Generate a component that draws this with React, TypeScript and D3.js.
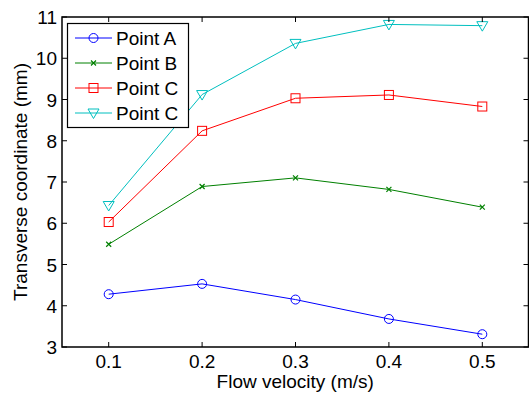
import * as d3 from "d3";

const velocity = [0.1, 0.2, 0.3, 0.4, 0.5];
const pointA = [4.28, 4.53, 4.15, 3.68, 3.31];
const pointB = [5.49, 6.89, 7.1, 6.82, 6.39];
const pointC = [6.03, 8.24, 9.03, 9.11, 8.83];
const pointC2 = [6.43, 9.12, 10.36, 10.82, 10.79];
const xTicks = [0.1, 0.2, 0.3, 0.4, 0.5];
const yTicks = [3, 4, 5, 6, 7, 8, 9, 10, 11];
const seriesNames = ["Point A", "Point B", "Point C", "Point C"];

type Marker = "circle" | "x" | "square" | "triangle";

const series: { name: string; values: number[]; color: string; marker: Marker }[] = [
  { name: seriesNames[0], values: pointA, color: "#0000ff", marker: "circle" },
  { name: seriesNames[1], values: pointB, color: "#008000", marker: "x" },
  { name: seriesNames[2], values: pointC, color: "#ff0000", marker: "square" },
  { name: seriesNames[3], values: pointC2, color: "#00bfbf", marker: "triangle" },
];

const W = 529;
const H = 394;
const margin = { top: 17, right: 0, bottom: 47, left: 62 };
const font = "'Liberation Sans', Arial, Helvetica, sans-serif";
const fs = 19;

function MarkerShape({ kind, x, y, color }: { kind: Marker; x: number; y: number; color: string }) {
  if (kind === "circle")
    return <circle cx={x} cy={y} r={4.5} fill="none" stroke={color} strokeWidth={1} />;
  if (kind === "square")
    return <rect x={x - 4.5} y={y - 4.5} width={9} height={9} fill="none" stroke={color} strokeWidth={1} />;
  if (kind === "triangle")
    return (
      <path
        d={`M${x - 5.5},${y - 4}L${x + 5.5},${y - 4}L${x},${y + 5.5}Z`}
        fill="none"
        stroke={color}
        strokeWidth={1}
      />
    );
  return (
    <path
      d={`M${x - 2.5},${y - 2.5}L${x + 2.5},${y + 2.5}M${x - 2.5},${y + 2.5}L${x + 2.5},${y - 2.5}`}
      stroke={color}
      strokeWidth={1.2}
    />
  );
}

export default function App() {
  const x = d3.scaleLinear().domain([0.05, 0.55]).range([margin.left, W - margin.right]);
  const y = d3.scaleLinear().domain([3, 11]).range([H - margin.bottom, margin.top]);
  const x0 = x(0.05);
  const x1 = x(0.55) - 0.5;
  const y0 = y(3);
  const y1 = y(11);
  const tl = 5;

  const line = d3
    .line<number>()
    .x((_, i) => x(velocity[i]))
    .y((v) => y(v));

  return (
    <svg
      width={W}
      height={H}
      style={{ position: "absolute", left: 0, top: 0, background: "#fff" }}
      fontFamily={font}
    >
      <rect width={W} height={H} fill="#fff" />
      {/* series */}
      {series.map((s) => (
        <g key={s.name + s.marker}>
          <path d={line(s.values) ?? ""} fill="none" stroke={s.color} strokeWidth={1} />
          {s.values.map((v, i) => (
            <MarkerShape key={i} kind={s.marker} x={x(velocity[i])} y={y(v)} color={s.color} />
          ))}
        </g>
      ))}

      {/* box and ticks */}
      <g stroke="#000" fill="none">
        <path d={`M${x0},${y1}H${x1}V${y0}H${x0}Z`} strokeWidth={1.5} />
        {xTicks.map((t) => (
          <g key={t} strokeWidth={1}>
            <line x1={x(t)} x2={x(t)} y1={y0} y2={y0 - tl} />
            <line x1={x(t)} x2={x(t)} y1={y1} y2={y1 + tl} />
          </g>
        ))}
        {yTicks.map((t) => (
          <g key={t} strokeWidth={1}>
            <line x1={x0} x2={x0 + tl} y1={y(t)} y2={y(t)} />
            <line x1={x1} x2={x1 - tl} y1={y(t)} y2={y(t)} />
          </g>
        ))}
      </g>

      {/* tick labels */}
      <g fontSize={fs} fill="#000">
        {xTicks.map((t) => (
          <text key={t} x={x(t)} y={y0 + 21} textAnchor="middle">
            {d3.format(".1f")(t)}
          </text>
        ))}
        {yTicks.map((t) => (
          <text key={t} x={x0 - 5} y={y(t) + 7} textAnchor="end">
            {t}
          </text>
        ))}
      </g>

      {/* axis titles */}
      <text x={(x0 + x1) / 2} y={388} textAnchor="middle" fontSize={fs} fill="#000">
        Flow velocity (m/s)
      </text>
      <text
        transform={`translate(27,${(y0 + y1) / 2}) rotate(-90)`}
        textAnchor="middle"
        fontSize={fs}
        fill="#000"
      >
        Transverse coordinate (mm)
      </text>

      {/* legend */}
      <g>
        <rect x={67.5} y={23.5} width={121} height={104} fill="#fff" stroke="#000" strokeWidth={1.2} />
        {series.map((s, i) => {
          const ly = 38 + i * 25;
          return (
            <g key={i}>
              <line x1={75} x2={112} y1={ly} y2={ly} stroke={s.color} strokeWidth={1} />
              <MarkerShape kind={s.marker} x={93.5} y={ly} color={s.color} />
              <text x={116} y={ly + 7} fontSize={fs} fill="#000">
                {s.name}
              </text>
            </g>
          );
        })}
      </g>
    </svg>
  );
}
